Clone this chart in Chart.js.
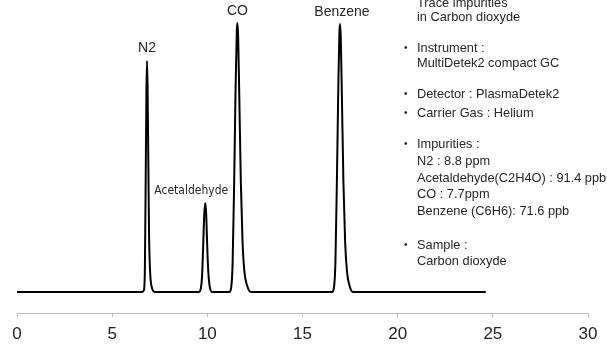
<!DOCTYPE html>
<html>
<head>
<meta charset="utf-8">
<script src="https://cdn.jsdelivr.net/npm/chart.js@4"></script>
<style>
    body { margin: 0; background: #fff; overflow: hidden; }
    #wrap { position: relative; width: 607px; height: 346px; }
    #notes { position: absolute; left: 0; top: 0; width: 607px; height: 346px; pointer-events: none;
             font-family: "Liberation Sans", Arial, sans-serif; font-size: 12.8px; color: #262626; }
    #notes div { position: absolute; white-space: nowrap; line-height: 16px; }
    #notes .dot { font-size: 10px; }
</style>
</head>
<body>
<div id="wrap">
    <canvas id="chromChart"></canvas>
    <div id="notes"></div>
</div>
<script>
// retention time (min) / detector signal
var baseline = [[0, 0], [24.63, 0]];
var n2Peak = [[6.58, 0], [6.67, 2], [6.72, 25], [6.76, 110], [6.80, 200], [6.83, 231], [6.86, 205],
              [6.90, 130], [6.94, 55], [7.00, 18], [7.08, 5], [7.24, 0]];
var acetPeak = [[9.55, 0], [9.65, 3], [9.72, 15], [9.78, 45], [9.84, 78], [9.89, 89], [9.94, 78],
                [9.99, 48], [10.05, 20], [10.12, 6], [10.25, 0]];
var coPeak = [[11.15, 0], [11.25, 4], [11.33, 30], [11.41, 110], [11.49, 210], [11.55, 262], [11.58, 269],
              [11.62, 255], [11.68, 195], [11.76, 110], [11.85, 50], [11.95, 20], [12.08, 7], [12.30, 0]];
var benzenePeak = [[16.55, 0], [16.65, 4], [16.73, 30], [16.81, 115], [16.89, 215], [16.94, 260], [16.97, 268],
                   [17.01, 255], [17.07, 195], [17.15, 110], [17.24, 50], [17.34, 20], [17.46, 7], [17.65, 0]];

var peakNames = ['N2', 'Acetaldehyde', 'CO', 'Benzene'];
var xTicks = [0, 5, 10, 15, 20, 25, 30];

var noteLines = [
    ['', 'Trace impurities', 3],
    ['', 'in Carbon dioxyde', 17],
    ['•', 'Instrument :', 48],
    ['', 'MultiDetek2 compact GC', 63],
    ['•', 'Detector : PlasmaDetek2', 94],
    ['•', 'Carrier Gas : Helium', 113],
    ['•', 'Impurities :', 144],
    ['', 'N2 : 8.8 ppm', 161],
    ['', 'Acetaldehyde(C2H4O) : 91.4 ppb', 178],
    ['', 'CO : 7.7ppm', 194],
    ['', 'Benzene (C6H6): 71.6 ppb', 211],
    ['•', 'Sample :', 245],
    ['', 'Carbon dioxyde', 261]
];

function toPoints(arr) {
    var out = [];
    for (var i = 0; i < arr.length; i++) {
        out.push({ x: arr[i][0], y: arr[i][1] });
    }
    return out;
}

// one trace: baseline with the peaks in between
var trace = [];
trace.push(baseline[0]);
trace = trace.concat(n2Peak, acetPeak, coPeak, benzenePeak);
trace.push(baseline[1]);

var peaks = [n2Peak, acetPeak, coPeak, benzenePeak];
// label offsets from the apex, in px, and font size
var labelShift = [[0, -13, 14], [-14, -12, 12], [0, -12, 14], [2, -12, 14]];

function apexOf(p) {
    var best = p[0];
    for (var i = 1; i < p.length; i++) {
        if (p[i][1] > best[1]) best = p[i];
    }
    return best;
}

var peakLabels = {
    id: 'peakLabels',
    afterDatasetsDraw: function (chart) {
        var ctx = chart.ctx;
        var xs = chart.scales.x, ys = chart.scales.y;
        ctx.save();
        ctx.fillStyle = '#262626';
        ctx.textAlign = 'center';
        ctx.textBaseline = 'middle';
        for (var i = 0; i < peaks.length; i++) {
            var a = apexOf(peaks[i]);
            if (i == 1) {
                ctx.font = '12px "Liberation Sans Narrow", "DejaVu Sans Condensed", sans-serif';
            } else {
                ctx.font = labelShift[i][2] + 'px "Liberation Sans", Arial, sans-serif';
            }
            ctx.fillText(peakNames[i], xs.getPixelForValue(a[0]) + labelShift[i][0],
                         ys.getPixelForValue(a[1]) + labelShift[i][1]);
        }
        ctx.restore();
    }
};

var ctx = document.getElementById('chromChart');
var myChart = new Chart(ctx, {
    type: 'line',
    data: {
        datasets: [{
            data: toPoints(trace),
            borderColor: '#000000',
            borderWidth: 2,
            pointRadius: 0,
            fill: false,
            cubicInterpolationMode: 'monotone'
        }]
    },
    options: {
        responsive: true,
        maintainAspectRatio: false,
        animation: false,
        events: [],
        layout: { padding: { left: 17, right: 19, top: 0, bottom: 0 } },
        plugins: { legend: { display: false }, tooltip: { enabled: false } },
        scales: {
            x: {
                type: 'linear',
                min: 0,
                max: 30,
                afterBuildTicks: function (axis) {
                    axis.ticks = xTicks.map(function (v) { return { value: v }; });
                },
                afterFit: function (axis) {
                    axis.height = 33;
                },
                grid: { drawOnChartArea: false, drawTicks: true, tickLength: 4, color: '#bfbfbf' },
                border: { display: true, color: '#bfbfbf', width: 1 },
                ticks: {
                    padding: 7,
                    color: '#222222',
                    maxRotation: 0,
                    font: { family: '"Liberation Sans", Arial, sans-serif', size: 17 }
                }
            },
            y: {
                display: false,
                min: -21,
                max: 292
            }
        }
    },
    plugins: [peakLabels]
});

// side notes
var notes = document.getElementById('notes');
for (var i = 0; i < noteLines.length; i++) {
    var ln = noteLines[i];
    if (ln[0]) {
        var d = document.createElement('div');
        d.className = 'dot';
        d.textContent = ln[0];
        d.style.left = '404px';
        d.style.top = (ln[2] - 8) + 'px';
        notes.appendChild(d);
    }
    var t = document.createElement('div');
    t.textContent = ln[1];
    t.style.left = '417px';
    t.style.top = (ln[2] - 8) + 'px';
    notes.appendChild(t);
}
</script>
</body>
</html>
